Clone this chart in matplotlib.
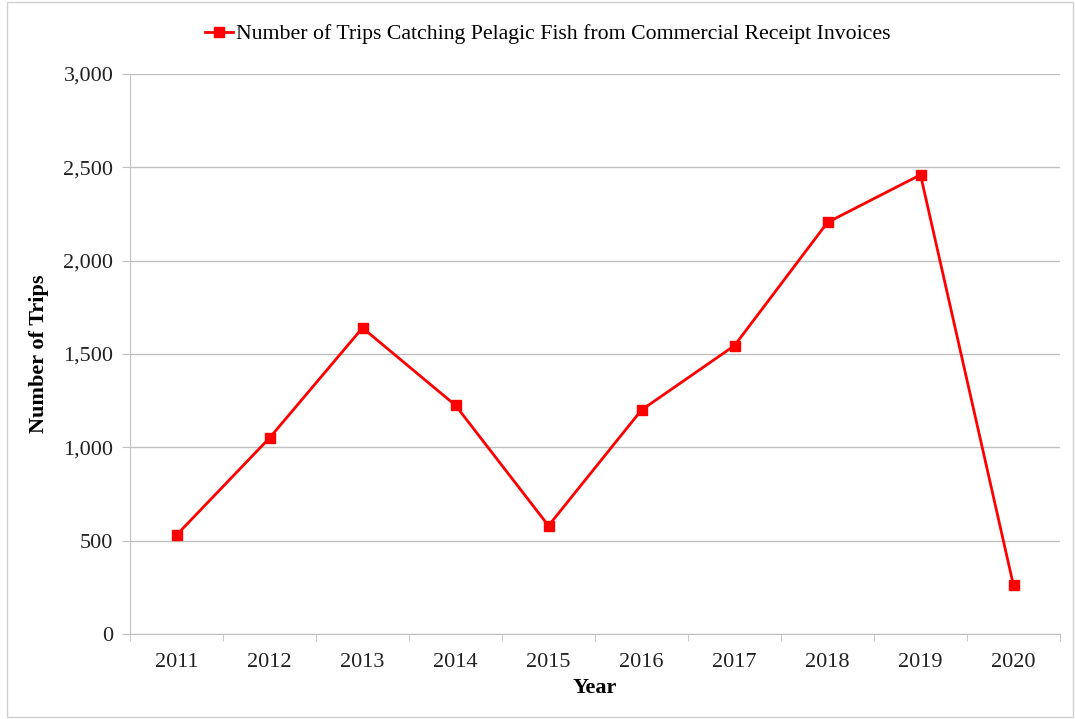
import numpy as np
import matplotlib.pyplot as plt
from matplotlib.patches import Rectangle
from matplotlib.ticker import FuncFormatter, FixedLocator

years = ["2011", "2012", "2013", "2014", "2015", "2016", "2017", "2018", "2019", "2020"]
trips = [530, 1050, 1640, 1225, 580, 1200, 1545, 2205, 2460, 260]
series_label = "Number of Trips Catching Pelagic Fish from Commercial Receipt Invoices"

plt.rcParams["font.family"] = ["Liberation Serif", "DejaVu Serif"]
grey = "#c0c0c0"

fig = plt.figure(figsize=(10.75, 7.19), dpi=100)
ax = fig.add_axes([130 / 1075, 1 - 634 / 719, 930 / 1075, 560 / 719])

x = np.arange(len(years))
ax.plot(x, trips, color="#ff0000", lw=2, marker="s", ms=7.5, label=series_label)

ax.set_xlim(-0.5, len(years) - 0.5)
ax.set_ylim(0, 3000)
ax.set_yticks(np.arange(0, 3001, 500))
ax.yaxis.set_major_formatter(FuncFormatter(lambda v, p: f"{int(v):,}"))
ax.set_xticks(x)
ax.set_xticklabels(years)
ax.xaxis.set_minor_locator(FixedLocator(np.arange(-0.5, len(years), 1)))
ax.tick_params(axis="x", which="major", length=0, pad=14, labelsize=16, labelcolor="#222222")
ax.tick_params(axis="x", which="minor", length=5, color=grey, direction="out")
ax.tick_params(axis="y", length=6, color=grey, pad=6, labelsize=16, labelcolor="#222222")

ax.grid(axis="y", color=grey, lw=1)
ax.set_axisbelow(True)
for side in ["top", "right"]:
    ax.spines[side].set_visible(False)
for side in ["left", "bottom"]:
    ax.spines[side].set_color(grey)

ax.set_xlabel("Year", fontsize=16, fontweight="bold", labelpad=4)
ax.set_ylabel("Number of Trips", fontsize=16, fontweight="bold", labelpad=10)

fig.legend(loc="center", bbox_to_anchor=(548 / 1075, 1 - 34 / 719), frameon=False,
           fontsize=15.7, handlelength=1.25, handletextpad=0.15)

fig.patches.append(Rectangle((7 / 1075, 2 / 719), 1066 / 1075, 715 / 719,
                             transform=fig.transFigure, fill=False, edgecolor="#d0d0d0", lw=1))

fig.savefig("out.png", dpi=100)
